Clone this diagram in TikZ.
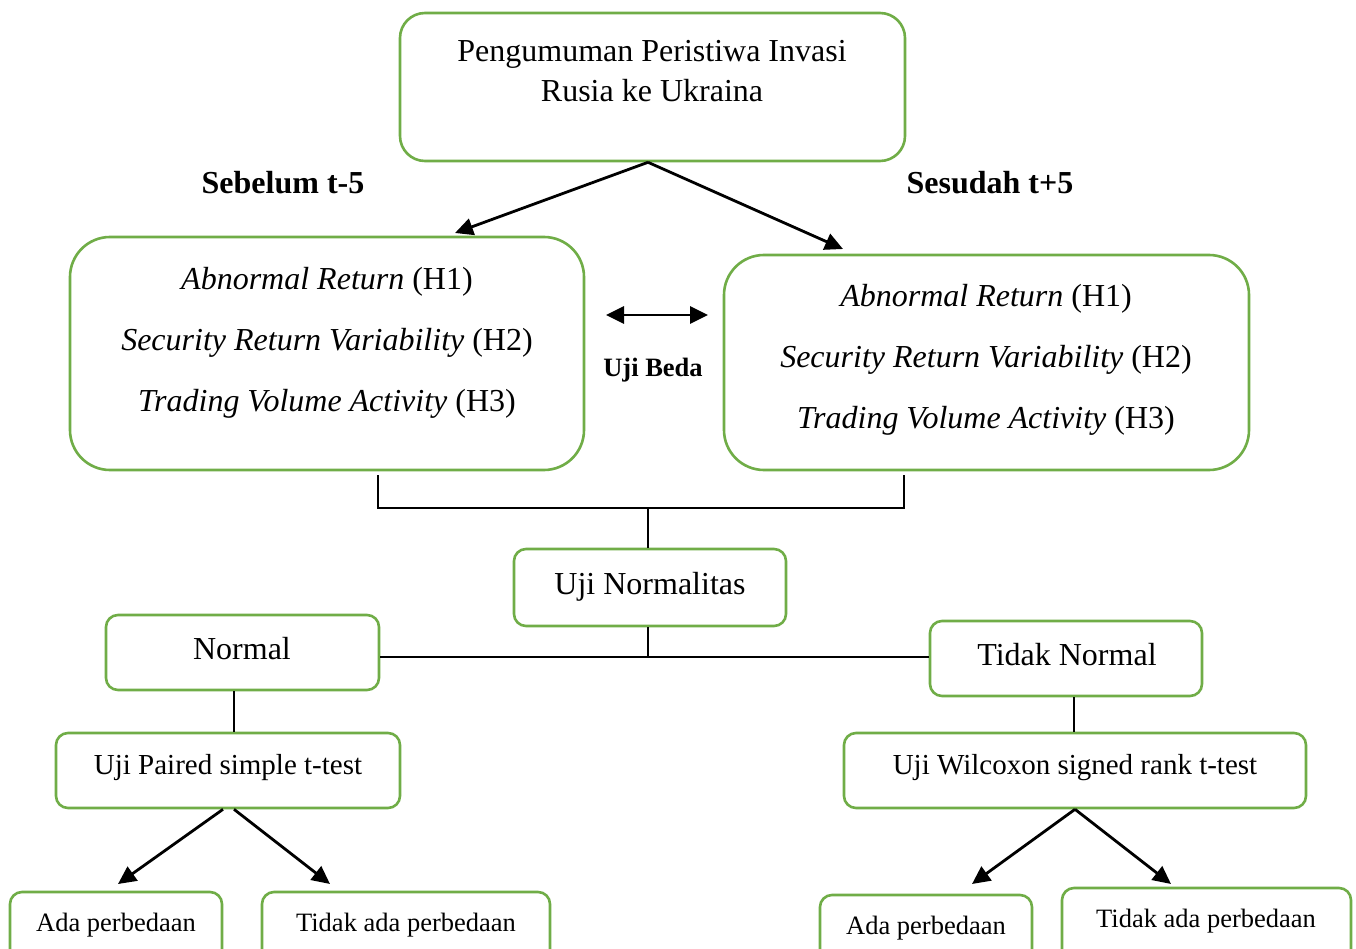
\documentclass[tikz,border=0pt]{standalone}
\usepackage{fontspec}
\setmainfont{Liberation Serif}
\usetikzlibrary{arrows.meta,calc}
\definecolor{boxgreen}{HTML}{70AD47}
\tikzset{
  gbox/.style={draw=boxgreen, line width=2.6pt, fill=white, inner sep=0pt},
  bigtxt/.style={font=\fontsize{32}{40}\selectfont, align=center, inner sep=0pt},
  midtxt/.style={font=\fontsize{29}{36}\selectfont, align=center, inner sep=0pt},
  smalltxt/.style={font=\fontsize{26.5}{32}\selectfont, align=center, inner sep=0pt},
  conn/.style={draw=black, line width=1.3pt},
  arr/.style={draw=black, line width=2.8pt, -{Triangle[length=18pt,width=17pt]}},
  darr/.style={draw=black, line width=2.8pt, {Triangle[length=18pt,width=17pt]}-{Triangle[length=18pt,width=17pt]}}
}
\begin{document}
\begin{tikzpicture}[x=1pt,y=-1pt]
\clip (0,0) rectangle (1356,949);
\fill[white] (0,0) rectangle (1356,949);

% boxes
\node[gbox, rounded corners=25pt, minimum width=505pt, minimum height=148pt] (top) at (652.5,87) {};
\node[bigtxt] (toptext) at (652,71.5) {Pengumuman Peristiwa Invasi\\Rusia ke Ukraina};

\node[gbox, rounded corners=40pt, minimum width=514pt, minimum height=233pt] (left) at (327,353.5) {};
\node[bigtxt, font=\fontsize{32}{61}\selectfont] (lefttext) at (327,342.5) {\textit{Abnormal Return} (H1)\\\textit{Security Return Variability} (H2)\\\textit{Trading Volume Activity} (H3)};

\node[gbox, rounded corners=40pt, minimum width=525pt, minimum height=215pt] (right) at (986.5,362.5) {};
\node[bigtxt, font=\fontsize{32}{61}\selectfont] (righttext) at (986,359.5) {\textit{Abnormal Return} (H1)\\\textit{Security Return Variability} (H2)\\\textit{Trading Volume Activity} (H3)};

\node[bigtxt, font=\bfseries\fontsize{32}{40}\selectfont] (sebelum) at (283,182.5) {Sebelum t-5};
\node[bigtxt, font=\bfseries\fontsize{32}{40}\selectfont] (sesudah) at (990,182.5) {Sesudah t+5};
\node[bigtxt, font=\bfseries\fontsize{26.5}{32}\selectfont] (ujibeda) at (653,370) {Uji Beda};

\node[gbox, rounded corners=12pt, minimum width=272pt, minimum height=77pt] (norm) at (650,587.5) {};
\node[bigtxt] (normtext) at (650,587) {Uji Normalitas};

\node[gbox, rounded corners=12pt, minimum width=273pt, minimum height=75pt] (normal) at (242.5,652.5) {};
\node[bigtxt] (normaltext) at (242,649) {Normal};

\node[gbox, rounded corners=12pt, minimum width=272pt, minimum height=75pt] (tidaknormal) at (1066,658.5) {};
\node[bigtxt] (tidaknormaltext) at (1067,655) {Tidak Normal};

\node[gbox, rounded corners=12pt, minimum width=344pt, minimum height=75pt] (paired) at (228,770.5) {};
\node[midtxt] (pairedtext) at (228,768) {Uji Paired simple t-test};

\node[gbox, rounded corners=12pt, minimum width=462pt, minimum height=75pt] (wilcox) at (1075,770.5) {};
\node[midtxt] (wilcoxtext) at (1075,768) {Uji Wilcoxon signed rank t-test};

\node[gbox, rounded corners=12pt, minimum width=212pt, minimum height=80pt] (ada1) at (116,932) {};
\node[smalltxt] (ada1text) at (116,925) {Ada perbedaan};
\node[gbox, rounded corners=12pt, minimum width=288pt, minimum height=80pt] (tidak1) at (406,932) {};
\node[smalltxt] (tidak1text) at (406,925) {Tidak ada perbedaan};

\node[gbox, rounded corners=12pt, minimum width=212pt, minimum height=80pt] (ada2) at (926,935) {};
\node[smalltxt] (ada2text) at (926,928) {Ada perbedaan};
\node[gbox, rounded corners=12pt, minimum width=289pt, minimum height=80pt] (tidak2) at (1206.5,928) {};
\node[smalltxt] (tidak2text) at (1206,921) {Tidak ada perbedaan};

% arrows from top box
\coordinate (a1) at (455,233);
\coordinate (a2) at (843,249);
\draw[arr] (top.south -| 648,0) -- (a1);
\draw[arr] (top.south -| 648,0) -- (a2);

% double arrow
\coordinate (d1) at (606,315);
\coordinate (d2) at (708,315);
\draw[darr] (d1) -- (d2);

% elbow connector to normality
\coordinate (e1) at (378,475);
\coordinate (e2) at (904,475);
\draw[conn] (e1) -- (378,508) -- (904,508) -- (e2);
\draw[conn] (648,508) -- (norm.north -| 648,0);
\draw[conn] (norm.south -| 648,0) -- (648,657);
\draw[conn] (normal.east |- 0,657) -- (tidaknormal.west |- 0,657);

\draw[conn] (normal.south -| 234,0) -- (paired.north -| 234,0);
\draw[conn] (tidaknormal.south -| 1074,0) -- (wilcox.north -| 1074,0);

% bottom arrows
\coordinate (b1) at (118,884);
\coordinate (b2) at (330,884);
\coordinate (b3) at (972,884);
\coordinate (b4) at (1171,884);
\draw[arr] (paired.south -| 223,0) -- (b1);
\draw[arr] (paired.south -| 234,0) -- (b2);
\draw[arr] (wilcox.south -| 1075,0) -- (b3);
\draw[arr] (wilcox.south -| 1075,0) -- (b4);
\end{tikzpicture}
\end{document}
